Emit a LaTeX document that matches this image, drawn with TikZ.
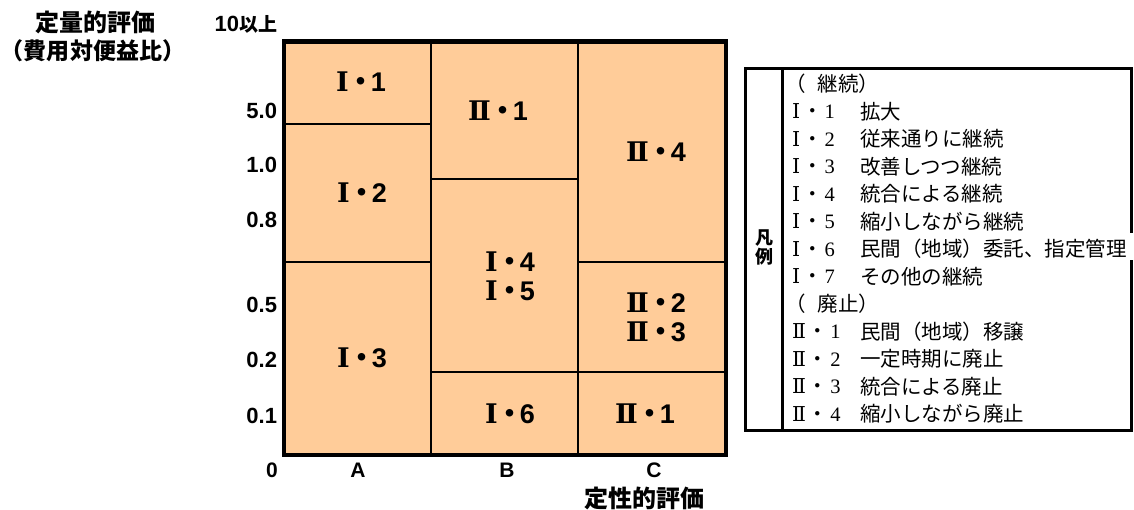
\documentclass[tikz,border=0pt]{standalone}
\usepackage{fontspec}
\newfontfamily\jp{Noto Sans CJK JP}
\newfontfamily\ls{Liberation Sans}
\newfontfamily\dser{DejaVu Serif}
\newfontfamily\lser{Liberation Serif}
\definecolor{peach}{RGB}{255,204,153}
\newcommand\clab[2]{{\dser\bfseries #1}\kern-1pt{\jp\bfseries ・}\kern-4pt{\ls\bfseries #2}}
\newcommand\llab[2]{{\dser #1}\kern2pt{\jp ・}\kern2pt{\lser #2}}
\begin{document}
\begin{tikzpicture}[x=1pt,y=-1pt,
  every node/.style={inner sep=0pt,outer sep=0pt},
  grid/.style={line width=1.3pt,black},
  frame/.style={line width=4.5pt,black},
  lframe/.style={line width=3pt,black},
  clabel/.style={font=\fontsize{27}{29}\selectfont},
  ylab/.style={anchor=east,font=\ls\bfseries\fontsize{22}{24}\selectfont},
  xlab/.style={font=\ls\bfseries\fontsize{21}{24}\selectfont},
  title/.style={font=\jp\bfseries\fontsize{24}{28}\selectfont},
  lnum/.style={anchor=west,font=\fontsize{20.5}{24}\selectfont},
  ldesc/.style={anchor=west,font=\jp\fontsize{20.5}{24}\selectfont},
  lhead/.style={font=\jp\bfseries\fontsize{18}{20}\selectfont}]
\useasboundingbox (0,0) rectangle (1134,510);
% chart
\coordinate (tl) at (284,41.5);
\coordinate (br) at (726,455);
\fill[peach] (tl) rectangle (br);
\draw[grid] (431,41.5) -- (431,455);
\draw[grid] (578,41.5) -- (578,455);
\draw[grid] (284,124) -- (431,124);
\draw[grid] (284,262) -- (431,262);
\draw[grid] (431,179) -- (578,179);
\draw[grid] (431,372) -- (578,372);
\draw[grid] (578,262) -- (726,262);
\draw[grid] (578,372) -- (726,372);
\draw[frame] (tl) rectangle (br);
% chart labels
\node[clabel] (a1) at (361,82) {\clab{Ⅰ}{1}};
\node[clabel] (a2) at (362,193) {\clab{Ⅰ}{2}};
\node[clabel] (a3) at (362,358) {\clab{Ⅰ}{3}};
\node[clabel] (b1) at (498,111) {\clab{Ⅱ}{1}};
\node[clabel] (b4) at (510,262) {\clab{Ⅰ}{4}};
\node[clabel] (b5) at (510,291) {\clab{Ⅰ}{5}};
\node[clabel] (b6) at (510,414) {\clab{Ⅰ}{6}};
\node[clabel] (c4) at (656,152) {\clab{Ⅱ}{4}};
\node[clabel] (c2) at (656,303) {\clab{Ⅱ}{2}};
\node[clabel] (c3) at (656,332) {\clab{Ⅱ}{3}};
\node[clabel] (c1) at (645,414) {\clab{Ⅱ}{1}};
% axes
\node[ylab] (y10) at (277,24) {10{\jp\fontsize{19}{22}\selectfont 以上}};
\node[ylab] (y50) at (277,111) {5.0};
\node[ylab] (y10b) at (277,165) {1.0};
\node[ylab] (y08) at (277,220) {0.8};
\node[ylab] (y05) at (277,305) {0.5};
\node[ylab] (y02) at (277,360) {0.2};
\node[ylab] (y01) at (277,416) {0.1};
\node[xlab] (x0) at (272,470) {0};
\node[xlab] (xa) at (358,470) {A};
\node[xlab] (xb) at (507,470) {B};
\node[xlab] (xc) at (654,470) {C};
\node[title] (tq) at (95,22) {定量的評価};
\node[title,font=\jp\bfseries\fontsize{23}{26}\selectfont] (tq2) at (93,51) {（費用対便益比）};
\node[title] (tx) at (644,498) {定性的評価};
% legend
\draw[lframe] (1131,233) -- (1131,68.5) -- (745,68.5) -- (745,430) -- (1131,430) -- (1131,260);
\draw[lframe] (782,68.5) -- (782,430);
\node[lhead] (h1) at (764,238) {凡};
\node[lhead] (h2) at (764,257) {例};
\node[ldesc] (g0) at (785,84) {（\hspace{12pt}継続）};
\node[lnum] (n1) at (792,111.5) {\llab{Ⅰ}{1}};
\node[ldesc] (d1) at (860,111.5) {拡大};
\node[lnum] (n2) at (792,139) {\llab{Ⅰ}{2}};
\node[ldesc] (d2) at (860,139) {従来通りに継続};
\node[lnum] (n3) at (792,166.5) {\llab{Ⅰ}{3}};
\node[ldesc] (d3) at (860,166.5) {改善しつつ継続};
\node[lnum] (n4) at (792,194) {\llab{Ⅰ}{4}};
\node[ldesc] (d4) at (860,194) {統合による継続};
\node[lnum] (n5) at (792,221.5) {\llab{Ⅰ}{5}};
\node[ldesc] (d5) at (860,221.5) {縮小しながら継続};
\node[lnum] (n6) at (792,249) {\llab{Ⅰ}{6}};
\node[ldesc] (d6) at (860,249) {民間（地域）委託、指定管理};
\node[lnum] (n7) at (792,276.5) {\llab{Ⅰ}{7}};
\node[ldesc] (d7) at (860,276.5) {その他の継続};
\node[ldesc] (g1) at (785,304) {（\hspace{12pt}廃止）};
\node[lnum] (m1) at (792,331.5) {\llab{Ⅱ}{1}};
\node[ldesc] (e1) at (860,331.5) {民間（地域）移譲};
\node[lnum] (m2) at (792,359) {\llab{Ⅱ}{2}};
\node[ldesc] (e2) at (860,359) {一定時期に廃止};
\node[lnum] (m3) at (792,386.5) {\llab{Ⅱ}{3}};
\node[ldesc] (e3) at (860,386.5) {統合による廃止};
\node[lnum] (m4) at (792,414) {\llab{Ⅱ}{4}};
\node[ldesc] (e4) at (860,414) {縮小しながら廃止};
\end{tikzpicture}
\end{document}
